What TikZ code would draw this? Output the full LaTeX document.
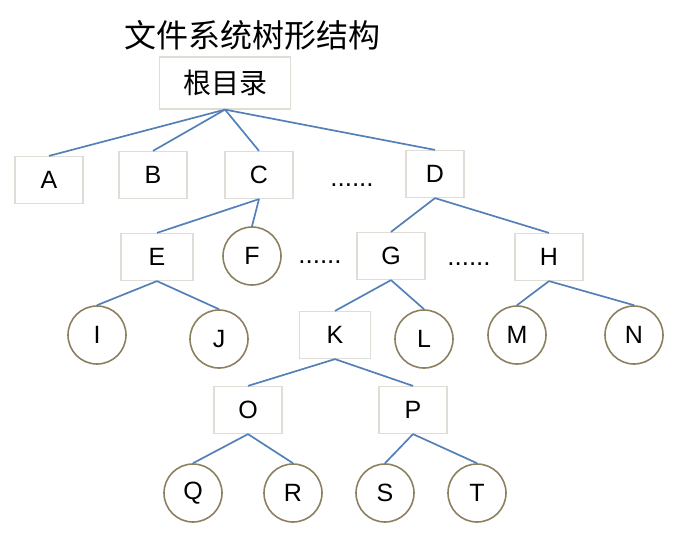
\documentclass[tikz,border=0pt]{standalone}
\usepackage{fontspec}
\setmainfont{Liberation Sans}
\newfontfamily\chino{Noto Sans CJK SC}
\usepackage{tikz}
\definecolor{azulRama}{RGB}{84,128,184}
\definecolor{cafeHoja}{RGB}{140,128,96}
\definecolor{grisCaja}{RGB}{222,222,214}
\tikzstyle{rama}  =[line width=1.7pt, azulRama]
\tikzstyle{caja}  =[rectangle, draw=grisCaja, fill=white,
                    minimum width=68pt, minimum height=47pt,
                    line width=1.2pt, inner sep=0pt,
                    font=\fontsize{25}{30}\selectfont]
\tikzstyle{hoja}  =[circle, draw=cafeHoja, fill=white,
                    minimum size=58pt, line width=1.6pt,
                    inner sep=0pt, font=\fontsize{25}{30}\selectfont]
\tikzstyle{puntos}=[inner sep=0pt, font=\fontsize{26}{30}\selectfont]

\begin{document}
\begin{tikzpicture}[x=1pt,y=-1pt]
    \useasboundingbox (0,0) rectangle (679,552);

    \draw (252,35) node (titulo) {\chino\fontsize{32}{36}\selectfont 文件系统树形结构};
    \draw (225,83) node (raiz) [caja, minimum width=131pt, minimum height=52pt]
        {\chino\fontsize{28}{32}\selectfont 根目录};

    % primer nivel
    \draw (49,180) node (A) [caja] {A};
    \draw (153,175) node (B) [caja] {B};
    \draw (259,175) node (C) [caja] {C};
    \draw (352,185) node (p1) [puntos] {......};
    \draw (435,174) node (D) [caja, minimum width=58pt] {D};

    % segundo nivel
    \draw (157,257) node (E) [caja, minimum width=72pt] {E};
    \draw (252,256) node (F) [hoja] {F};
    \draw (320,262) node (p2) [puntos] {......};
    \draw (391,256) node (G) [caja] {G};
    \draw (469,264) node (p3) [puntos] {......};
    \draw (549,257) node (H) [caja] {H};

    % tercer nivel
    \draw (97,335) node (I) [hoja] {I};
    \draw (219,339) node (J) [hoja] {J};
    \draw (335,335) node (K) [caja, minimum width=71pt] {K};
    \draw (424,339) node (L) [hoja] {L};
    \draw (517,335) node (M) [hoja] {M};
    \draw (634,335) node (N) [hoja] {N};

    % cuarto y quinto nivel
    \draw (248,410) node (O) [caja] {O};
    \draw (413,410) node (P) [caja] {P};
    \draw (193,493) node (Q) [hoja] {Q};
    \draw (293,493) node (R) [hoja] {R};
    \draw (385,493) node (S) [hoja] {S};
    \draw (477,493) node (T) [hoja] {T};

    \foreach \i/\j in {raiz/A,raiz/B,raiz/C,raiz/D,C/E,C/F,D/G,D/H,E/I,E/J,
    G/K,G/L,H/M,H/N,K/O,K/P,O/Q,O/R,P/S,P/T}
        \draw [rama] (\i.south) to (\j.north);

\end{tikzpicture}
\end{document}
